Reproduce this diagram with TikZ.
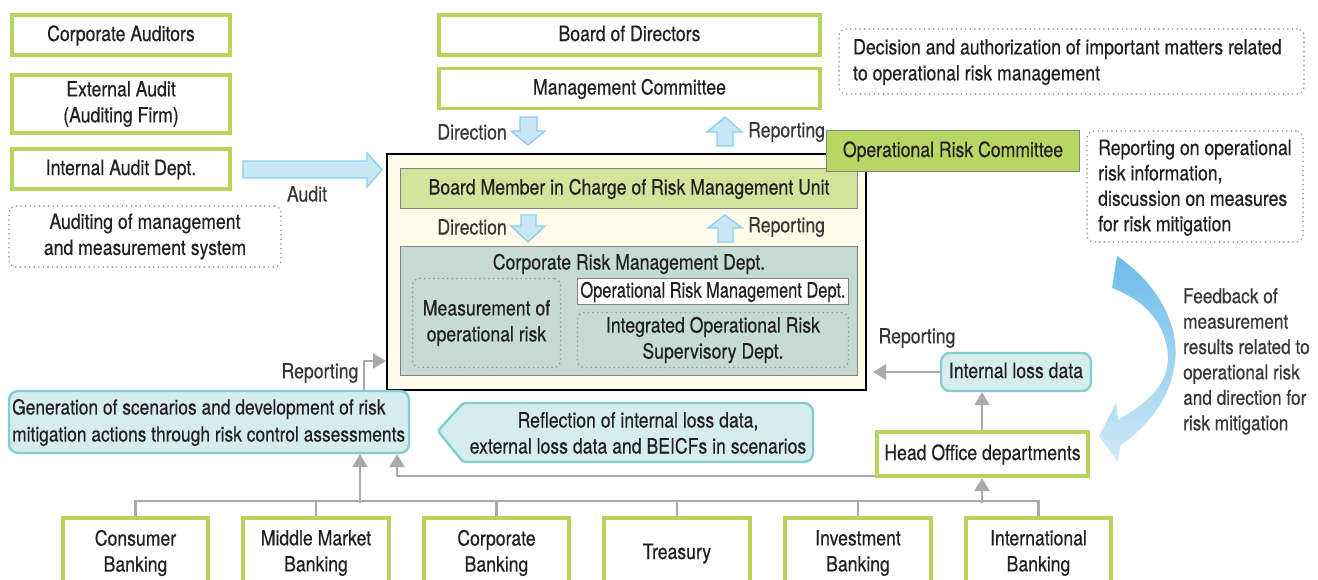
\documentclass[tikz,border=0pt]{standalone}
\usepackage{fontspec}
\setmainfont{TeX Gyre Heros}[FakeStretch=0.84,FakeBold=0.4]
\usetikzlibrary{arrows.meta}
\definecolor{grn}{RGB}{183,212,92}
\definecolor{txt}{RGB}{35,31,32}
\definecolor{lbltxt}{RGB}{55,55,55}
\definecolor{cream}{RGB}{255,253,233}
\definecolor{bmfill}{RGB}{212,228,156}
\definecolor{orcfill}{RGB}{185,214,100}
\definecolor{crmfill}{RGB}{198,219,211}
\definecolor{tealfill}{RGB}{214,237,238}
\definecolor{tealdraw}{RGB}{130,206,206}
\definecolor{cgray}{RGB}{170,170,172}
\definecolor{dotc}{RGB}{150,150,150}
\definecolor{arrfill}{RGB}{200,232,248}
\definecolor{arrdraw}{RGB}{140,208,240}
\definecolor{boxdraw}{RGB}{130,130,130}
\definecolor{blua}{RGB}{108,189,234}
\definecolor{blub}{RGB}{128,198,236}
\definecolor{bluc}{RGB}{208,233,248}
\newcommand\sx{\rule[-5pt]{0pt}{22pt}}
\begin{document}
\begin{tikzpicture}[x=1pt,y=-1pt,
  every node/.style={font=\fontsize{21}{26}\selectfont, text=txt, inner sep=0pt, align=center},
  gbox/.style={draw=grn, line width=3.6pt, fill=white},
  dotbox/.style={draw=dotc, line width=1.8pt, dash pattern=on 0pt off 4.6pt, line cap=round, rounded corners=7pt},
  tealbox/.style={draw=tealdraw, fill=tealfill, line width=2.4pt, rounded corners=9pt},
  plainbox/.style={draw=boxdraw, line width=1.4pt},
  cline/.style={draw=cgray, line width=2.4pt},
  conn/.style={cline, -{Triangle[length=13pt,width=15pt]}},
  fatarr/.style={fill=arrfill, draw=arrdraw, line width=1.4pt, line join=miter},
  lbl/.style={text=lbltxt}
]
\useasboundingbox (0,0) rectangle (1318,579);
\clip (0,0) rectangle (1318,579);

% left column
\node[gbox, minimum width=218.5pt, minimum height=40.5pt] (corpaud) at (121,35) {\sx Corporate Auditors};
\node[gbox, minimum width=218.5pt, minimum height=58.5pt] (extaud) at (121,104) {External Audit\\(Auditing Firm)};
\node[gbox, minimum width=218.5pt, minimum height=40.5pt] (intaud) at (121,169) {\sx Internal Audit Dept.};
\node[dotbox, minimum width=272pt, minimum height=61pt] (audsys) at (145,236.5) {Auditing of management\\and measurement system};

% top
\node[gbox, minimum width=381pt, minimum height=40.5pt] (board) at (629.5,35) {\sx Board of Directors};
\node[gbox, minimum width=381pt, minimum height=40pt] (mgmt) at (629.5,88.5) {\sx Management Committee};
\node[dotbox, minimum width=465pt, minimum height=65pt] (decision) at (1071.5,61.5) {};
\node[anchor=west, align=left] (decisiontxt) at (853,62) {Decision and authorization of important matters related\\to operational risk management};

% main block
\node[draw=black, line width=2pt, fill=cream, minimum width=479pt, minimum height=236pt] (main) at (626.5,271.5) {};
\node[plainbox, fill=bmfill, minimum width=457pt, minimum height=40pt] (bm) at (629,188.5) {\sx Board Member in Charge of Risk Management Unit};
\node[plainbox, fill=orcfill, minimum width=253pt, minimum height=41pt] (orc) at (953,151) {\sx Operational Risk Committee};
\node[plainbox, fill=crmfill, minimum width=457pt, minimum height=129pt] (crm) at (629,311) {};
\node (crmtxt) at (629,263.5) {\sx Corporate Risk Management Dept.};
\node[dotbox, minimum width=148pt, minimum height=89pt] (meas) at (486.5,323) {Measurement of\\operational risk};
\node[plainbox, fill=white, minimum width=271pt, minimum height=26pt] (ormd) at (713,291.5) {\sx\scalebox{0.93}[1]{Operational Risk Management Dept.}};
\node[dotbox, minimum width=271pt, minimum height=55pt] (iors) at (713,340) {Integrated Operational Risk\\Supervisory Dept.};

% right side
\node[dotbox, minimum width=216pt, minimum height=111pt] (rinfo) at (1195,186.5) {};
\node[anchor=north west, align=left, font=\fontsize{21}{25.4}\selectfont] (rinfotxt) at (1098,139.5) {Reporting on operational\\risk information,\\discussion on measures\\for risk mitigation};
\node[anchor=north west, align=left, text=lbltxt, font=\fontsize{20.5}{25.4}\selectfont] (feedback) at (1183,288) {Feedback of\\measurement\\results related to\\operational risk\\and direction for\\risk mitigation};
\node[tealbox, minimum width=150pt, minimum height=38pt] (ild) at (1016,372) {\sx Internal loss data};
\node[gbox, minimum width=211.5pt, minimum height=44.5pt] (hod) at (982.5,454) {\sx Head Office departments};

% bottom left
\node[tealbox, minimum width=400pt, minimum height=62pt] (gen) at (209,422) {};
\node[anchor=west, align=left, font=\fontsize{20.7}{27}\selectfont] (gentxt) at (12,422.5) {Generation of scenarios and development of risk\\mitigation actions through risk control assessments};
\draw[tealbox, rounded corners=2pt] (438,431) -- (463,403) [rounded corners=9pt] -- (813,403) -- (813,462) [rounded corners=2pt] -- (463,462) -- cycle;
\node (refl) at (638,433) {Reflection of internal loss data,\\external loss data and BEICFs in scenarios};

% business lines
\node[gbox, minimum width=145.5pt, minimum height=70pt] (b1) at (135.5,553) {Consumer\\Banking};
\node[gbox, minimum width=145.5pt, minimum height=70pt] (b2) at (316,553) {Middle Market\\Banking};
\node[gbox, minimum width=145.5pt, minimum height=70pt] (b3) at (496.5,553) {Corporate\\Banking};
\node[gbox, minimum width=145.5pt, minimum height=70pt] (b4) at (677,553) {\sx Treasury};
\node[gbox, minimum width=145.5pt, minimum height=70pt] (b5) at (858,553) {Investment\\Banking};
\node[gbox, minimum width=145.5pt, minimum height=70pt] (b6) at (1038.5,553) {International\\Banking};

% connectors
\draw[cline] (b1.north) -- ++(0,-15) -| (b6.north);
\foreach \b in {b2,b3,b4,b5} \draw[cline] (\b.north) -- ++(0,-15);
\coordinate (busL) at (360,503);
\coordinate (busR) at (982,503);
\draw[conn] (busL) -- (busL |- gen.south);
\draw[conn] (busR) -- (busR |- hod.south);
\draw[conn] ([yshift=-22pt]hod.west) -| ([xshift=188pt]gen.south);
\draw[conn] (hod.north -| busR) -- (busR |- ild.south);
\draw[conn, shorten >=6pt] (ild.west) -- (ild.west -| main.east);
\draw[conn] ([xshift=155pt]gen.north) |- ([yshift=-89.5pt]main.west);

% labels
\node[lbl, anchor=east] (dir1) at (507,132) {Direction};
\node[lbl, anchor=west] (rep1) at (748,132) {Reporting};
\node[lbl, anchor=east] (dir2) at (507,227) {Direction};
\node[lbl, anchor=west] (rep2) at (748,227) {Reporting};
\node[lbl] (auditlbl) at (307,194) {Audit};
\node[lbl] (rep3) at (917,338) {Reporting};
\node[lbl] (rep4) at (320,373) {Reporting};

% fat arrows
\draw[fatarr] (243,161) -- (367,161) -- (367,153) -- (382,169.5) -- (367,187) -- (367,178) -- (243,178) -- cycle;
\draw[fatarr] (520,117) -- (537,117) -- (537,131) -- (545,131) -- (528,145) -- (511,131) -- (520,131) -- cycle;
\draw[fatarr] (725,117) -- (742,132) -- (733,132) -- (733,146) -- (717,146) -- (717,132) -- (707,132) -- cycle;
\draw[fatarr] (521,215) -- (536,215) -- (536,226) -- (545,226) -- (528,242) -- (511,226) -- (521,226) -- cycle;
\draw[fatarr] (725,215) -- (742,228) -- (733,228) -- (733,242) -- (718,242) -- (718,228) -- (708,228) -- cycle;

% curved feedback arrow
\shade[top color=blua, middle color=blub, bottom color=bluc]
  (1117,256) .. controls (1160,285) and (1182,330) .. (1174,368)
  .. controls (1168,405) and (1142,430) .. (1120,446)
  -- (1118,462) -- (1099,436) -- (1116,403) -- (1118,420)
  .. controls (1145,404) and (1166,388) .. (1168,360)
  .. controls (1168,325) and (1145,300) .. (1112,288) -- cycle;
\end{tikzpicture}
\end{document}
